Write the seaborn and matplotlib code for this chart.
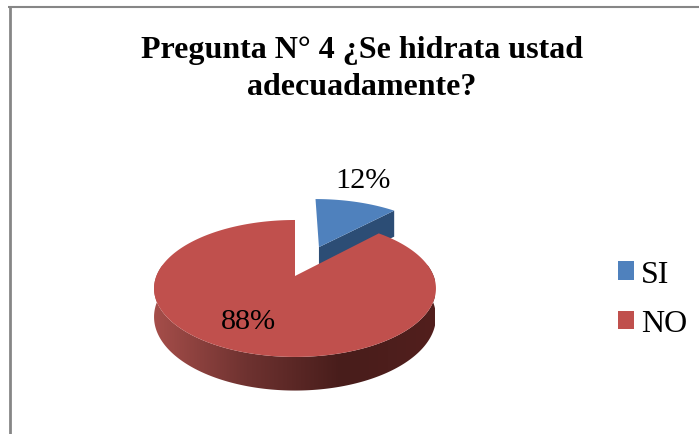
import numpy as np
import seaborn as sns
import matplotlib
matplotlib.use("Agg")
import matplotlib.pyplot as plt
from matplotlib.colors import LinearSegmentedColormap
from matplotlib.patches import Patch, Polygon

titulo = "Pregunta N° 4 ¿Se hidrata ustad\nadecuadamente?"
categorias = ["SI", "NO"]
valores = [12, 88]
colores = ["#4F81BD", "#C0504D"]
separacion = [0.51, 0]

sns.set_theme(style="white")
plt.rcParams["font.family"] = ["Liberation Serif", "DejaVu Serif"]


def proyectar(x, y):
    # pie en perspectiva, de coordenadas del circulo a pixeles
    w = 1 + 0.182 * y
    return 295 + 138.6 * x / w, 277 - 66.2 * y / w


def profundidad(y):
    return 27.5 / (1 + 0.182 * y)


fig = plt.figure(figsize=(6.99, 4.35), dpi=100)
ax = fig.add_axes([0, 0, 1, 1])

wedges, texts, autotexts = ax.pie(
    valores,
    colors=colores,
    explode=separacion,
    startangle=90,
    counterclock=False,
    autopct="%.0f%%",
    textprops={"fontsize": 21.8, "color": "black"},
)
ax.set_aspect("auto")
ax.set_xlim(0, 699)
ax.set_ylim(435, 0)
ax.axis("off")

si, no = wedges
for w in wedges:
    w.set_visible(False)

# cara cortada de la porcion azul
cx, cy = si.center
t = np.radians(si.theta1)
esq_x, esq_y = cx + np.cos(t), cy + np.sin(t)
ax_, ay_ = proyectar(np.array([cx, esq_x]), np.array([cy, esq_y]))
ax.add_patch(Polygon(
    [(ax_[0], ay_[0]), (ax_[1], ay_[1]), (ax_[1], ay_[1] + 26), (ax_[0], ay_[0] + 26)],
    facecolor="#2C4D75", edgecolor="none", zorder=2))

# cara superior azul
t = np.radians(np.linspace(si.theta1, si.theta2, 120))
xs = np.r_[cx, cx + np.cos(t)]
ys = np.r_[cy, cy + np.sin(t)]
px, py = proyectar(xs, ys)
ax.add_patch(Polygon(np.c_[px, py], facecolor=colores[0], edgecolor="none", zorder=3))

# lateral rojo con degradado
t = np.radians(np.linspace(-190, 10, 300))
xb, yb = np.cos(t), np.sin(t)
px, py = proyectar(xb, yb)
lateral = np.r_[np.c_[px, py], np.c_[px, py + profundidad(yb)][::-1]]
cmap = LinearSegmentedColormap.from_list(
    "lateral", ["#A64E4A", "#6E3230", "#481D1B", "#521F1D"])
img = ax.imshow(np.linspace(0, 1, 256)[None, :], cmap=cmap, aspect="auto",
                extent=(153, 435, 435, 0), zorder=4)
clip = Polygon(lateral, transform=ax.transData, facecolor="none", edgecolor="none")
ax.add_patch(clip)
img.set_clip_path(clip)
ax.set_xlim(0, 699)
ax.set_ylim(435, 0)

# cara superior roja
t = np.radians(np.linspace(no.theta1, no.theta2, 400))
xs = np.r_[no.center[0], no.center[0] + np.cos(t)]
ys = np.r_[no.center[1], no.center[1] + np.sin(t)]
px, py = proyectar(xs, ys)
ax.add_patch(Polygon(np.c_[px, py], facecolor=colores[1], edgecolor="none", zorder=5))

autotexts[0].set_position((363, 181))
autotexts[1].set_position((248, 322))
for a in autotexts:
    a.set_ha("center")
    a.set_va("center")
    a.set_zorder(6)

ax.text(362, 69, titulo, ha="center", va="center", fontsize=23,
        fontweight="bold", color="black", linespacing=1.34)

# marco del grafico
ax.plot([9.6, 9.6], [435, 7], color="#868686", lw=2.0, solid_capstyle="butt", zorder=1)
ax.plot([8.2, 699], [8, 8], color="#868686", lw=1.5, solid_capstyle="butt", zorder=1)

handles = [Patch(facecolor=c, edgecolor="none", label=n) for c, n in zip(colores, categorias)]
ax.legend(handles=handles, loc="center left", bbox_to_anchor=(0.884, 0.31),
          frameon=False, fontsize=23, handlelength=0.5, handleheight=0.5,
          handletextpad=0.22, labelspacing=0.64, borderpad=0, borderaxespad=0,
          labelcolor="black")

plt.savefig("out.png", dpi=100)
plt.close()
